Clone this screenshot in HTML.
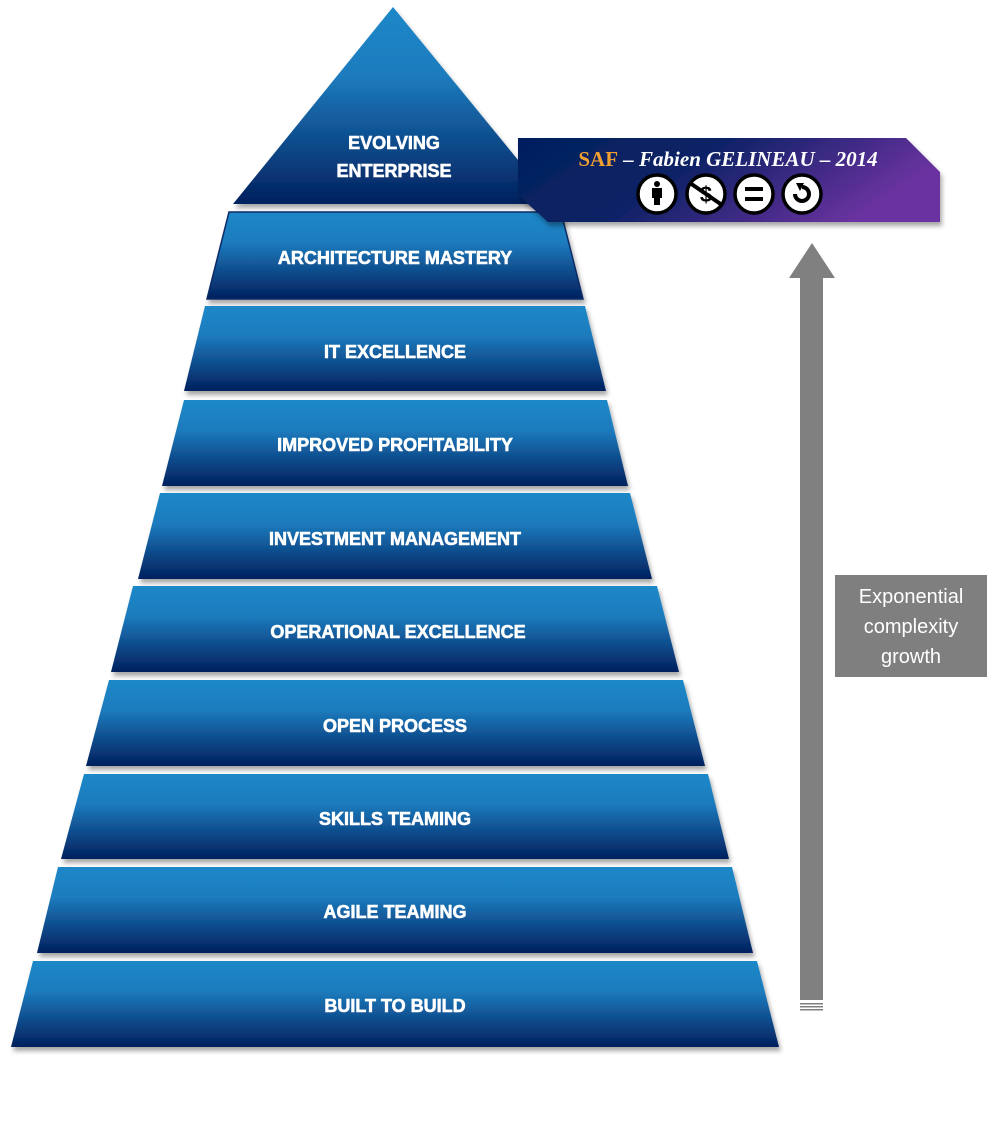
<!DOCTYPE html>
<html><head><style>
html,body{margin:0;padding:0;background:#fff;}
svg{display:block;}
.t{font-family:"Liberation Sans",sans-serif;font-weight:bold;font-size:18px;fill:#fff;stroke:#fff;stroke-width:0.6;text-anchor:middle;}
</style></head><body>
<svg width="992" height="1140" viewBox="0 0 992 1140" xmlns="http://www.w3.org/2000/svg">
<defs>
<linearGradient id="g" x1="0" y1="0" x2="0" y2="1">
<stop offset="0" stop-color="#1f88c8"/><stop offset="0.35" stop-color="#1c7bbd"/><stop offset="1" stop-color="#02205e"/>
</linearGradient>
<linearGradient id="b" x1="0" y1="0" x2="1" y2="0.3">
<stop offset="0" stop-color="#021f5e"/><stop offset="0.45" stop-color="#0c2265"/><stop offset="1" stop-color="#6a32a0"/>
</linearGradient>
<filter id="s" x="-5%" y="-5%" width="110%" height="120%"><feDropShadow dx="2" dy="4" stdDeviation="2.5" flood-color="#000" flood-opacity="0.35"/></filter>
</defs>
<g filter="url(#s)">
<polygon points="393,7 233,204 554,204" fill="url(#g)"/>
<polygon points="229,212 561,212 583,299 207,299" fill="url(#g)" stroke="#0a2a66" stroke-width="1.5"/>
<polygon points="205,306 585,306 606,391 184,391" fill="url(#g)"/>
<polygon points="184,400 607,400 628,486 162,486" fill="url(#g)"/>
<polygon points="160,493 630,493 652,579 138,579" fill="url(#g)"/>
<polygon points="133,586 657,586 679,672 111,672" fill="url(#g)"/>
<polygon points="109,680 683,680 705,766 86,766" fill="url(#g)"/>
<polygon points="84,774 708,774 729,859 61,859" fill="url(#g)"/>
<polygon points="58,867 732,867 753,953 37,953" fill="url(#g)"/>
<polygon points="33,961 757,961 779,1047 11,1047" fill="url(#g)"/>
</g>
<text class="t" x="394" y="149">EVOLVING</text>
<text class="t" x="394" y="177">ENTERPRISE</text>
<text class="t" x="395" y="264">ARCHITECTURE MASTERY</text>
<text class="t" x="395" y="358">IT EXCELLENCE</text>
<text class="t" x="395" y="451">IMPROVED PROFITABILITY</text>
<text class="t" x="395" y="545">INVESTMENT MANAGEMENT</text>
<text class="t" x="398" y="638">OPERATIONAL EXCELLENCE</text>
<text class="t" x="395" y="732">OPEN PROCESS</text>
<text class="t" x="395" y="825">SKILLS TEAMING</text>
<text class="t" x="395" y="918">AGILE TEAMING</text>
<text class="t" x="395" y="1012">BUILT TO BUILD</text>

<g filter="url(#s)">
<polygon points="518,138 906,138 940,172 940,222 548,222 518,195" fill="url(#b)"/>
</g>
<text x="728" y="166" font-family="Liberation Serif,serif" font-size="21" font-weight="bold" font-style="italic" fill="#fff" text-anchor="middle"><tspan fill="#f0a030" font-style="normal">SAF</tspan> – Fabien GELINEAU – 2014</text>
<g stroke="#000" stroke-width="3.5" fill="#fff">
<circle cx="657" cy="194" r="19"/><circle cx="706" cy="194" r="19"/><circle cx="754" cy="194" r="19"/><circle cx="802" cy="194" r="19"/>
</g>
<circle cx="657" cy="184" r="3" fill="#000"/>
<rect x="652" y="188" width="10" height="10" fill="#000"/><rect x="654" y="197" width="6" height="8" fill="#000"/>
<text x="706" y="202" font-family="Liberation Sans,sans-serif" font-weight="bold" font-size="22" text-anchor="middle" fill="#000">$</text>
<line x1="690" y1="183" x2="722" y2="205" stroke="#000" stroke-width="4"/>
<rect x="745" y="187" width="18" height="4" fill="#000"/><rect x="745" y="197" width="18" height="4" fill="#000"/>
<path d="M795,194 a7,7 0 1 0 7,-7" fill="none" stroke="#000" stroke-width="4"/>
<polygon points="796,183 804,183 800,191" fill="#000"/>

<polygon points="812,243 789,278 835,278" fill="#808080"/>
<rect x="800" y="277" width="23" height="723" fill="#808080"/>
<rect x="800" y="1003" width="23" height="1.5" fill="#808080"/>
<rect x="800" y="1006" width="23" height="1.5" fill="#808080"/>
<rect x="800" y="1009" width="23" height="1.5" fill="#808080"/>
<rect x="835" y="575" width="152" height="102" fill="#7f7f7f"/>
<g font-family="Liberation Sans,sans-serif" font-size="20" fill="#fff" text-anchor="middle">
<text x="911" y="603">Exponential</text><text x="911" y="633">complexity</text><text x="911" y="663">growth</text>
</g>
</svg>
</body></html>
